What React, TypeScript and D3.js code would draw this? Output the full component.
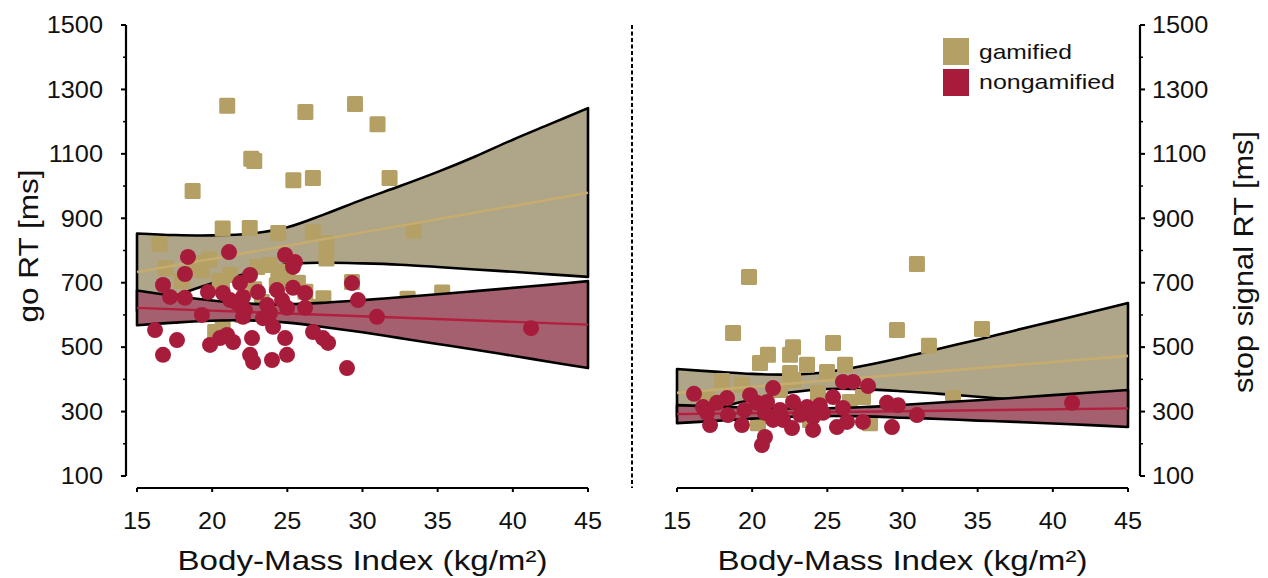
import React from 'react';
import * as d3 from 'd3';

const xTicks = [15, 20, 25, 30, 35, 40, 45];
const yTicks = [100, 300, 500, 700, 900, 1100, 1300, 1500];
const yMinorTicks = [200, 400, 600, 800, 1000, 1200, 1400];
const bandX = [15, 17.5, 20, 22.5, 25, 27.5, 30, 32.5, 35, 37.5, 40, 42.5, 45];
const fitX = [15, 45];

// ---- left panel: go RT ----
const goGamified: [number, number][] = [
  [16.5, 820], [18.7, 985], [21.0, 1249], [22.6, 1085], [22.8, 1078], [20.7, 868], [22.5, 870],
  [24.4, 854], [25.4, 1018], [26.7, 1025], [26.2, 1230], [29.5, 1255], [31.0, 1192], [31.8, 1025],
  [26.7, 857], [27.6, 822], [27.6, 775], [33.4, 862], [35.3, 670], [29.3, 702], [27.4, 652],
  [19.3, 739], [21.2, 724], [23.0, 749], [23.85, 755], [24.4, 733], [18.9, 760], [20.5, 705],
  [20.65, 699], [22.8, 680], [24.3, 692], [25.0, 715], [25.7, 700], [23.3, 640], [20.2, 547],
  [20.7, 559], [22.0, 600], [26.2, 672], [19.8, 772], [18.0, 705], [16.9, 745], [24.5, 610],
  [27.0, 625], [33.0, 650],
];
const goNongamified: [number, number][] = [
  [18.39, 780], [21.12, 795], [24.85, 786], [25.51, 764], [25.38, 749], [18.19, 727], [16.73, 693],
  [17.2, 656], [18.19, 653], [19.72, 671], [20.72, 668], [21.19, 646], [21.65, 637], [21.85, 699],
  [22.05, 656], [22.52, 724], [19.32, 600], [22.18, 615], [22.05, 594], [23.65, 631], [23.85, 606],
  [24.65, 646], [24.98, 622], [25.38, 684], [26.18, 668], [26.18, 622], [24.05, 563], [26.71, 547],
  [27.37, 528], [27.71, 513], [29.3, 699], [29.7, 646], [30.96, 594], [16.2, 553], [17.66, 522],
  [16.73, 476], [19.86, 507], [20.52, 528], [20.99, 538], [21.39, 516], [22.65, 528], [22.52, 476],
  [22.72, 454], [23.98, 460], [24.85, 528], [24.98, 476], [28.97, 435], [41.21, 559], [23.05, 671],
  [24.31, 677], [23.38, 590],
];
const goGamUpper = [853, 848, 847, 852, 872, 913, 958, 1000, 1044, 1092, 1144, 1193, 1242];
const goGamLower = [612, 658, 698, 731, 757, 762, 760, 756, 749, 741, 734, 726, 718];
const goNonUpper = [676, 659, 645, 635, 633, 638, 646, 655, 664, 674, 684, 694, 705];
const goNonLower = [568, 576, 582, 583, 576, 562, 546, 528, 510, 492, 473, 454, 435];
const goGamFit = [733, 979];
const goNonFit = [622, 570];

// ---- right panel: stop signal RT ----
const ssGamified: [number, number][] = [
  [19.79, 718], [30.96, 758], [18.73, 544], [29.63, 553], [31.76, 504], [25.38, 513], [21.05, 476],
  [20.52, 451], [22.72, 500], [22.52, 476], [23.65, 445], [24.98, 423], [26.18, 445], [19.32, 383],
  [22.52, 420], [22.72, 398], [24.38, 358], [27.37, 345], [33.36, 342], [20.39, 264], [27.84, 264],
  [35.29, 556], [21.85, 367], [23.85, 274], [17.0, 340], [18.0, 395], [26.5, 330],
];
const ssNongamified: [number, number][] = [
  [16.13, 355], [16.73, 314], [17.0, 296], [17.66, 327], [18.33, 342], [18.39, 289], [17.2, 258],
  [19.32, 258], [19.86, 351], [20.32, 327], [20.99, 330], [20.85, 296], [21.39, 373], [21.85, 305],
  [22.05, 274], [22.65, 249], [22.72, 330], [23.65, 314], [24.05, 283], [24.05, 243], [24.71, 296],
  [25.38, 345], [25.64, 252], [26.04, 311], [26.31, 268], [26.04, 392], [26.71, 392], [27.71, 379],
  [27.37, 268], [28.97, 327], [29.7, 320], [29.3, 252], [30.96, 289], [20.85, 221], [20.65, 196],
  [21.39, 274], [41.28, 327], [24.5, 320], [23.2, 290], [19.5, 305],
];
const ssGamUpper = [432, 424, 417, 415, 423, 443, 468, 496, 523, 552, 580, 608, 637];
const ssGamLower = [284, 311, 337, 359, 370, 369, 363, 355, 346, 337, 328, 318, 309];
const ssNonUpper = [320, 316, 312, 310, 310, 314, 321, 328, 335, 343, 351, 359, 367];
const ssNonLower = [264, 271, 278, 284, 286, 285, 281, 277, 272, 268, 263, 258, 252];
const ssGamFit = [358, 473];
const ssNonFit = [292, 310];

const seriesNames = ['gamified', 'nongamified'];

const FONT = '"Liberation Sans", Arial, Helvetica, sans-serif';
const TAN = '#B4A064';
const RED = '#A61C3A';
const TAN_BAND = '#AFA589';
const RED_BAND = '#A4606E';
const TAN_LINE = '#C6AC6E';
const RED_LINE = '#B31F3E';

const y = d3.scaleLinear().domain([100, 1500]).range([476, 25]);

type PanelProps = {
  x0: number; x1: number;
  gam: [number, number][]; non: [number, number][];
  gU: number[]; gL: number[]; nU: number[]; nL: number[];
  gFit: number[]; nFit: number[];
};

function Panel({ x0, x1, gam, non, gU, gL, nU, nL, gFit, nFit }: PanelProps) {
  const x = d3.scaleLinear().domain([15, 45]).range([x0, x1]);
  const area = (up: number[], lo: number[]) =>
    d3.area<number>()
      .x((d) => x(d))
      .y0((_, i) => y(lo[i]))
      .y1((_, i) => y(up[i]))
      .curve(d3.curveCatmullRom)(bandX) || '';
  const fit = (v: number[]) =>
    d3.line<number>().x((d) => x(d)).y((_, i) => y(v[i]))(fitX) || '';
  const sq = 16;
  return (
    <g>
      <path d={area(gU, gL)} fill={TAN_BAND} stroke="#000" strokeWidth={2.6} strokeLinejoin="round" />
      {gam.map((d, i) => (
        <rect key={'g' + i} x={x(d[0]) - sq / 2} y={y(d[1]) - sq / 2} width={sq} height={sq} rx={1.5} fill={TAN} />
      ))}
      <path d={fit(gFit)} stroke={TAN_LINE} strokeWidth={2.6} fill="none" />
      <path d={area(nU, nL)} fill={RED_BAND} stroke="#000" strokeWidth={2.6} strokeLinejoin="round" />
      <path d={fit(nFit)} stroke={RED_LINE} strokeWidth={2.4} fill="none" />
      {non.map((d, i) => (
        <circle key={'n' + i} cx={x(d[0])} cy={y(d[1])} r={8} fill={RED} />
      ))}
      {/* x axis */}
      <line x1={x0} x2={x1} y1={488} y2={488} stroke="#000" strokeWidth={2.2} />
      {xTicks.map((t) => (
        <g key={t}>
          <line x1={x(t)} x2={x(t)} y1={488} y2={492} stroke="#000" strokeWidth={2} />
          <g transform={`translate(${x(t)},529) scale(1.1,1)`}>
            <text fontSize={23} textAnchor="middle" fontFamily={FONT} fill="#111">{t}</text>
          </g>
        </g>
      ))}
      <text x={(x0 + x1) / 2} y={570} fontSize={27} textAnchor="middle" fontFamily={FONT} fill="#111"
        textLength={370} lengthAdjust="spacingAndGlyphs">Body-Mass Index (kg/m²)</text>
    </g>
  );
}

function YAxis({ ax, side }: { ax: number; side: 'left' | 'right' }) {
  const dir = side === 'left' ? -1 : 1;
  return (
    <g>
      <line x1={ax} x2={ax} y1={y(1500)} y2={y(100)} stroke="#000" strokeWidth={2.2} />
      {yTicks.map((t) => (
        <g key={t}>
          <line x1={ax} x2={ax + dir * 5} y1={y(t)} y2={y(t)} stroke="#000" strokeWidth={2} />
          <g transform={`translate(${side === 'left' ? 103 : 1152},${y(t)}) scale(1.1,1)`}>
            <text fontSize={23} dy="0.36em" textAnchor={side === 'left' ? 'end' : 'start'} fontFamily={FONT} fill="#111">{t}</text>
          </g>
        </g>
      ))}
      {yMinorTicks.map((t) => (
        <line key={'m' + t} x1={ax} x2={ax + dir * 3} y1={y(t)} y2={y(t)} stroke="#000" strokeWidth={1.5} />
      ))}
    </g>
  );
}

export default function App() {
  return (
    <svg width={1268} height={578} style={{ position: 'absolute', left: 0, top: 0, background: '#fff' }}>
      <rect width={1268} height={578} fill="#fff" />
      <Panel x0={137} x1={588} gam={goGamified} non={goNongamified}
        gU={goGamUpper} gL={goGamLower} nU={goNonUpper} nL={goNonLower} gFit={goGamFit} nFit={goNonFit} />
      <Panel x0={677} x1={1128} gam={ssGamified} non={ssNongamified}
        gU={ssGamUpper} gL={ssGamLower} nU={ssNonUpper} nL={ssNonLower} gFit={ssGamFit} nFit={ssNonFit} />
      <YAxis ax={126} side="left" />
      <YAxis ax={1140} side="right" />
      <text transform="translate(38,246) rotate(-90)" fontSize={28} textAnchor="middle" fontFamily={FONT} fill="#111"
        textLength={153} lengthAdjust="spacingAndGlyphs">go RT [ms]</text>
      <text transform="translate(1253,262) rotate(-90)" fontSize={28} textAnchor="middle" fontFamily={FONT} fill="#111"
        textLength={262} lengthAdjust="spacingAndGlyphs">stop signal RT [ms]</text>
      <line x1={632} x2={632} y1={25} y2={488} stroke="#000" strokeWidth={2} strokeDasharray="4 2.5" />
      {/* legend */}
      <rect x={943} y={38} width={26} height={27} fill={TAN} />
      <rect x={943} y={69} width={26} height={27} fill={RED} />
      <text x={979} y={59} fontSize={21} fontFamily={FONT} fill="#111" textLength={93} lengthAdjust="spacingAndGlyphs">{seriesNames[0]}</text>
      <text x={979} y={89} fontSize={21} fontFamily={FONT} fill="#111" textLength={136} lengthAdjust="spacingAndGlyphs">{seriesNames[1]}</text>
    </svg>
  );
}
